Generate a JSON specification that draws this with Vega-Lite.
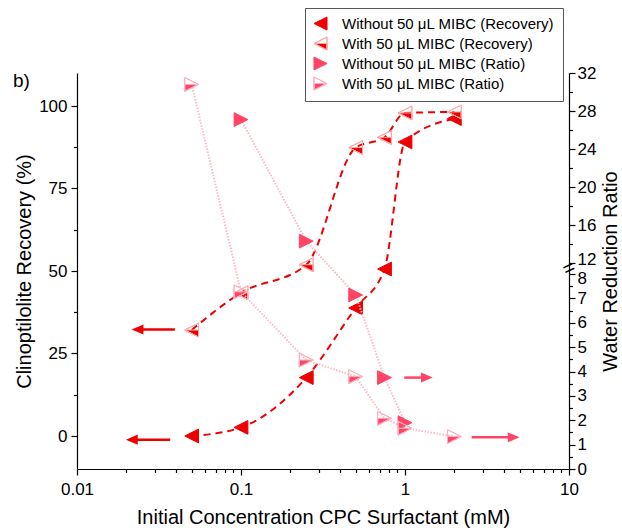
{
  "$schema": "https://vega.github.io/schema/vega-lite/v6.json",
  "width": 492,
  "height": 396,
  "autosize": {"type": "none"},
  "padding": {"left": 77, "top": 73, "right": 53, "bottom": 61},
  "background": "white",
  "title": {"text": "b)", "anchor": "start", "orient": "top", "frame": "group", "dx": -64, "dy": 67, "offset": -16, "fontSize": 19, "fontWeight": "normal", "font": "Liberation Sans", "color": "black"},
  "datasets": {
    "recovery": [
      {"series": "Without 50 μL MIBC (Recovery)", "x": 0.05, "value": 0.0},
      {"series": "Without 50 μL MIBC (Recovery)", "x": 0.1, "value": 2.6},
      {"series": "Without 50 μL MIBC (Recovery)", "x": 0.25, "value": 17.7},
      {"series": "Without 50 μL MIBC (Recovery)", "x": 0.5, "value": 38.8},
      {"series": "Without 50 μL MIBC (Recovery)", "x": 0.75, "value": 50.6},
      {"series": "Without 50 μL MIBC (Recovery)", "x": 1, "value": 89.1},
      {"series": "Without 50 μL MIBC (Recovery)", "x": 2, "value": 96.2},
      {"series": "With 50 μL MIBC (Recovery)", "x": 0.05, "value": 32.1},
      {"series": "With 50 μL MIBC (Recovery)", "x": 0.1, "value": 43.4},
      {"series": "With 50 μL MIBC (Recovery)", "x": 0.25, "value": 51.9},
      {"series": "With 50 μL MIBC (Recovery)", "x": 0.5, "value": 87.4},
      {"series": "With 50 μL MIBC (Recovery)", "x": 0.75, "value": 90.5},
      {"series": "With 50 μL MIBC (Recovery)", "x": 1, "value": 97.9},
      {"series": "With 50 μL MIBC (Recovery)", "x": 2, "value": 98.2}
    ],
    "ratio": [
      {"series": "Without 50 μL MIBC (Ratio)", "x": 0.1, "value": 27.1},
      {"series": "Without 50 μL MIBC (Ratio)", "x": 0.25, "value": 14.3},
      {"series": "Without 50 μL MIBC (Ratio)", "x": 0.5, "value": 7.14},
      {"series": "Without 50 μL MIBC (Ratio)", "x": 0.75, "value": 3.75},
      {"series": "Without 50 μL MIBC (Ratio)", "x": 1, "value": 1.9},
      {"series": "With 50 μL MIBC (Ratio)", "x": 0.05, "value": 30.8},
      {"series": "With 50 μL MIBC (Ratio)", "x": 0.1, "value": 7.27},
      {"series": "With 50 μL MIBC (Ratio)", "x": 0.25, "value": 4.47},
      {"series": "With 50 μL MIBC (Ratio)", "x": 0.5, "value": 3.79},
      {"series": "With 50 μL MIBC (Ratio)", "x": 0.75, "value": 2.08},
      {"series": "With 50 μL MIBC (Ratio)", "x": 1, "value": 1.67},
      {"series": "With 50 μL MIBC (Ratio)", "x": 2, "value": 1.33}
    ],
    "recoveryArrows": [
      {"series": "Without 50 μL MIBC (Recovery)", "x": 0.037, "x2": 0.0216, "value": -1.1},
      {"series": "With 50 μL MIBC (Recovery)", "x": 0.0395, "x2": 0.0234, "value": 32.3}
    ],
    "ratioArrows": [
      {"series": "Without 50 μL MIBC (Ratio)", "x": 0.99, "x2": 1.36, "value": 3.75},
      {"series": "With 50 μL MIBC (Ratio)", "x": 2.55, "x2": 4.6, "value": 1.3}
    ]
  },
  "layer": [
    {
      "layer": [
        {
          "data": {"name": "recovery"},
          "mark": {"type": "line", "color": "#ee0000", "strokeWidth": 2, "strokeDash": [7, 5], "interpolate": "monotone"},
          "encoding": {
            "x": {"field": "x", "type": "quantitative", "title": "Initial Concentration CPC Surfactant (mM)", "scale": {"type": "log", "domain": [0.01, 10], "nice": false}},
            "y": {"field": "value", "type": "quantitative", "title": "Clinoptilolite Recovery (%)", "scale": {"domain": [-10, 110], "nice": false, "zero": false}},
            "detail": {"field": "series"}
          }
        },
        {
          "data": {"name": "recoveryArrows"},
          "mark": {"type": "rule", "color": "#ee0000", "strokeWidth": 2.5},
          "encoding": {
            "x": {"field": "x", "type": "quantitative", "title": "Initial Concentration CPC Surfactant (mM)", "scale": {"type": "log", "domain": [0.01, 10], "nice": false}},
            "x2": {"field": "x2"},
            "y": {"field": "value", "type": "quantitative", "title": "Clinoptilolite Recovery (%)", "scale": {"domain": [-10, 110], "nice": false, "zero": false}}
          }
        },
        {
          "data": {"name": "recoveryArrows"},
          "mark": {"type": "point", "shape": "M-1,0L1,-0.85L1,0.85Z", "filled": true, "color": "#ee0000", "size": 140, "opacity": 1},
          "encoding": {
            "x": {"field": "x2", "type": "quantitative", "title": "Initial Concentration CPC Surfactant (mM)", "scale": {"type": "log", "domain": [0.01, 10], "nice": false}},
            "y": {"field": "value", "type": "quantitative", "title": "Clinoptilolite Recovery (%)", "scale": {"domain": [-10, 110], "nice": false, "zero": false}}
          }
        },
        {
          "data": {"name": "recovery"},
          "mark": {"type": "point", "filled": true, "size": 190, "strokeWidth": 1, "opacity": 1},
          "encoding": {
            "x": {"field": "x", "type": "quantitative", "title": "Initial Concentration CPC Surfactant (mM)", "scale": {"type": "log", "domain": [0.01, 10], "nice": false},
              "axis": {"values": [0.01,0.02,0.03,0.04,0.05,0.06,0.07,0.08,0.09,0.1,0.2,0.3,0.4,0.5,0.6,0.7,0.8,0.9,1,2,3,4,5,6,7,8,9,10],
                "tickCount": 1000,
                "labelExpr": "(datum.value == 0.01 || datum.value == 0.1 || datum.value == 1 || datum.value == 10) ? '' + datum.value : ''",
                "tickSize": {"condition": {"test": "datum.value == 0.01 || datum.value == 0.1 || datum.value == 1 || datum.value == 10", "value": 6}, "value": 3.5},
                "labelFontSize": {"condition": {"test": "datum.value == 0.01 || datum.value == 0.1 || datum.value == 1 || datum.value == 10", "value": 17}, "value": 0},
                "labelOverlap": false, "labelPadding": 6, "titlePadding": 10}},
            "y": {"field": "value", "type": "quantitative", "title": "Clinoptilolite Recovery (%)", "scale": {"domain": [-10, 110], "nice": false, "zero": false},
              "axis": {"orient": "left", "values": [0, 12.5, 25, 37.5, 50, 62.5, 75, 87.5, 100],
                "tickCount": 1000,
                "labelExpr": "datum.value % 25 == 0 ? '' + datum.value : ''",
                "tickSize": {"condition": {"test": "datum.value % 25 == 0", "value": 6}, "value": 3.5},
                "labelFontSize": {"condition": {"test": "datum.value % 25 == 0", "value": 17}, "value": 0},
                "labelOverlap": false, "titlePadding": 4}},
            "shape": {"field": "series", "type": "nominal", "legend": {"title": null, "labelExpr": "datum.label + '\u00a0\u00a0\u00a0\u00a0\u00a0\u00a0'"},
              "scale": {"domain": ["Without 50 μL MIBC (Recovery)", "With 50 μL MIBC (Recovery)", "Without 50 μL MIBC (Ratio)", "With 50 μL MIBC (Ratio)"],
                "range": ["M-1,0L1,-1L1,1Z", "M-1,0L1,0L1,1ZM-1,0L1,-1L1,1L-1,0L1,1L1,-1Z", "M1,0L-1,-1L-1,1Z", "M1,0L-1,0L-1,1ZM1,0L-1,-1L-1,1L1,0L-1,1L-1,-1Z"]}},
            "fill": {"field": "series", "type": "nominal", "legend": {"title": null, "labelExpr": "datum.label + '\u00a0\u00a0\u00a0\u00a0\u00a0\u00a0'"},
              "scale": {"domain": ["Without 50 μL MIBC (Recovery)", "With 50 μL MIBC (Recovery)", "Without 50 μL MIBC (Ratio)", "With 50 μL MIBC (Ratio)"],
                "range": ["#ee0000", "#ee0000", "#ff4466", "#ff4466"]}},
            "stroke": {"field": "series", "type": "nominal", "legend": {"title": null, "labelExpr": "datum.label + '\u00a0\u00a0\u00a0\u00a0\u00a0\u00a0'"},
              "scale": {"domain": ["Without 50 μL MIBC (Recovery)", "With 50 μL MIBC (Recovery)", "Without 50 μL MIBC (Ratio)", "With 50 μL MIBC (Ratio)"],
                "range": ["#ee0000", "#ffa8a8", "#ff4466", "#ffb0c0"]}}
          }
        }
      ]
    },
    {
      "layer": [
        {
          "data": {"name": "ratio"},
          "mark": {"type": "line", "color": "#ffb8c4", "strokeWidth": 2, "strokeDash": [1.5, 1.5], "interpolate": "linear"},
          "encoding": {
            "x": {"field": "x", "type": "quantitative", "title": "Initial Concentration CPC Surfactant (mM)", "scale": {"type": "log", "domain": [0.01, 10], "nice": false}},
            "y": {"field": "value", "type": "quantitative", "title": "Water Reduction Ratio", "scale": {"domain": [0, 8, 12, 32], "range": [396, 201, 190, 0], "nice": false, "zero": false},
              "axis": {"orient": "right", "values": [0,0.5,1,1.5,2,2.5,3,3.5,4,4.5,5,5.5,6,6.5,7,7.5,8,12,14,16,18,20,22,24,26,28,30,32],
                "tickCount": 1000,
                "labelExpr": "((datum.value <= 8 && datum.value % 1 == 0) || (datum.value >= 12 && datum.value % 4 == 0)) ? '' + datum.value : ''",
                "tickSize": {"condition": {"test": "(datum.value <= 8 && datum.value % 1 == 0) || (datum.value >= 12 && datum.value % 4 == 0)", "value": 6}, "value": 3.5},
                "labelFontSize": {"condition": {"test": "(datum.value <= 8 && datum.value % 1 == 0) || (datum.value >= 12 && datum.value % 4 == 0)", "value": 17}, "value": 0},
                "labelOffset": {"condition": [{"test": "datum.value == 12", "value": -4}, {"test": "datum.value == 8", "value": 4}], "value": 0},
                "labelOverlap": false, "labelPadding": 2, "titleAngle": -90, "titleBaseline": "top", "titlePadding": 5}},
            "detail": {"field": "series"}
          }
        },
        {
          "data": {"name": "ratioArrows"},
          "mark": {"type": "rule", "color": "#ff4466", "strokeWidth": 2.5},
          "encoding": {
            "x": {"field": "x", "type": "quantitative", "title": "Initial Concentration CPC Surfactant (mM)", "scale": {"type": "log", "domain": [0.01, 10], "nice": false}},
            "x2": {"field": "x2"},
            "y": {"field": "value", "type": "quantitative", "title": "Water Reduction Ratio", "scale": {"domain": [0, 8, 12, 32], "range": [396, 201, 190, 0], "nice": false, "zero": false}}
          }
        },
        {
          "data": {"name": "ratioArrows"},
          "mark": {"type": "point", "shape": "M1,0L-1,-0.85L-1,0.85Z", "filled": true, "color": "#ff4466", "size": 140, "opacity": 1},
          "encoding": {
            "x": {"field": "x2", "type": "quantitative", "title": "Initial Concentration CPC Surfactant (mM)", "scale": {"type": "log", "domain": [0.01, 10], "nice": false}},
            "y": {"field": "value", "type": "quantitative", "title": "Water Reduction Ratio", "scale": {"domain": [0, 8, 12, 32], "range": [396, 201, 190, 0], "nice": false, "zero": false}}
          }
        },
        {
          "data": {"name": "ratio"},
          "mark": {"type": "point", "filled": true, "size": 190, "strokeWidth": 1, "opacity": 1},
          "encoding": {
            "x": {"field": "x", "type": "quantitative", "title": "Initial Concentration CPC Surfactant (mM)", "scale": {"type": "log", "domain": [0.01, 10], "nice": false}},
            "y": {"field": "value", "type": "quantitative", "title": "Water Reduction Ratio", "scale": {"domain": [0, 8, 12, 32], "range": [396, 201, 190, 0], "nice": false, "zero": false}},
            "shape": {"field": "series", "type": "nominal", "legend": {"title": null, "labelExpr": "datum.label + '\u00a0\u00a0\u00a0\u00a0\u00a0\u00a0'"},
              "scale": {"domain": ["Without 50 μL MIBC (Recovery)", "With 50 μL MIBC (Recovery)", "Without 50 μL MIBC (Ratio)", "With 50 μL MIBC (Ratio)"],
                "range": ["M-1,0L1,-1L1,1Z", "M-1,0L1,0L1,1ZM-1,0L1,-1L1,1L-1,0L1,1L1,-1Z", "M1,0L-1,-1L-1,1Z", "M1,0L-1,0L-1,1ZM1,0L-1,-1L-1,1L1,0L-1,1L-1,-1Z"]}},
            "fill": {"field": "series", "type": "nominal", "legend": {"title": null, "labelExpr": "datum.label + '\u00a0\u00a0\u00a0\u00a0\u00a0\u00a0'"},
              "scale": {"domain": ["Without 50 μL MIBC (Recovery)", "With 50 μL MIBC (Recovery)", "Without 50 μL MIBC (Ratio)", "With 50 μL MIBC (Ratio)"],
                "range": ["#ee0000", "#ee0000", "#ff4466", "#ff4466"]}},
            "stroke": {"field": "series", "type": "nominal", "legend": {"title": null, "labelExpr": "datum.label + '\u00a0\u00a0\u00a0\u00a0\u00a0\u00a0'"},
              "scale": {"domain": ["Without 50 μL MIBC (Recovery)", "With 50 μL MIBC (Recovery)", "Without 50 μL MIBC (Ratio)", "With 50 μL MIBC (Ratio)"],
                "range": ["#ee0000", "#ffa8a8", "#ff4466", "#ffb0c0"]}}
          }
        },
        {
          "data": {"values": [{}]},
          "mark": {"type": "text", "text": "=", "fontSize": 20, "angle": -25, "color": "black", "font": "Liberation Sans"},
          "encoding": {
            "x": {"datum": 10, "type": "quantitative", "title": "Initial Concentration CPC Surfactant (mM)", "scale": {"type": "log", "domain": [0.01, 10], "nice": false}},
            "y": {"datum": 10, "type": "quantitative", "title": "Water Reduction Ratio", "scale": {"domain": [0, 8, 12, 32], "range": [396, 201, 190, 0], "nice": false, "zero": false}}
          }
        }
      ]
    }
  ],
  "resolve": {"scale": {"y": "independent"}},
  "config": {
    "view": {"stroke": null},
    "font": "Liberation Sans",
    "axis": {
      "grid": false, "labelFont": "Liberation Sans", "titleFont": "Liberation Sans",
      "labelFontSize": 17, "titleFontSize": 20, "titleFontWeight": "normal",
      "labelColor": "black", "titleColor": "black", "domainColor": "black", "tickColor": "black",
      "domainWidth": 1.2, "tickWidth": 1.2, "labelFlush": false, "labelOverlap": false, "labelPadding": 4
    },
    "legend": {
      "orient": "none", "legendX": 228, "legendY": -65,
      "labelFont": "Liberation Sans", "labelFontSize": 15, "labelColor": "black", "labelLimit": 400,
      "symbolSize": 170, "symbolStrokeWidth": 1, "rowPadding": 1, "padding": 8, "labelOffset": 14,
      "strokeColor": "#555555", "fillColor": "white", "symbolOpacity": 1
    }
  }
}
